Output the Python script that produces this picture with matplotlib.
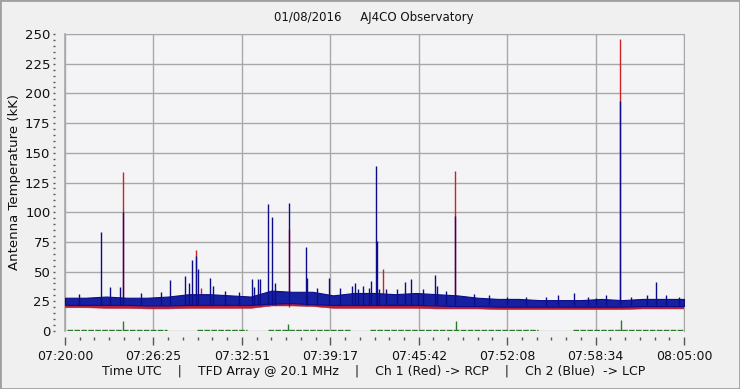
import numpy as np
import matplotlib
matplotlib.use('Agg')
import matplotlib.pyplot as plt
from matplotlib.ticker import MultipleLocator, FixedLocator

# time in seconds after 07:20:00
t_env = [0, 90, 180, 270, 360, 450, 540, 630, 720, 810, 900, 990, 1080, 1170, 1260, 1350,
         1440, 1530, 1620, 1710, 1800, 1890, 1980, 2070, 2160, 2250, 2340, 2430, 2520, 2610, 2700]
blue_hi = [28, 28, 29, 28, 28, 29, 31, 31, 30, 29, 34, 33, 33, 30, 32, 32,
           31, 32, 31, 30, 28, 27, 27, 26, 26, 26, 27, 26, 27, 27, 27]
blue_lo = [22, 22, 22, 22, 21.5, 21.5, 22, 22, 22, 22, 23, 23.5, 22.5, 22, 22, 22,
           22, 22, 21.5, 21, 21, 20.5, 20.5, 20.5, 20.5, 20.5, 20.5, 20.5, 21, 21, 21]
red_hi = [22.5, 22.5, 22, 22, 21.5, 21.5, 22, 22, 22, 22, 24, 24, 23.5, 22, 22, 22,
          22, 22, 21.5, 21.5, 21.5, 21.5, 21.5, 21.5, 21.5, 21.5, 21.5, 21.5, 22, 22, 22]
red_lo = [20, 20, 19.5, 19.5, 19, 19, 19.5, 19.5, 19.5, 19.5, 21.5, 21.5, 21, 19.5, 19.5, 19.5,
          19.5, 19.5, 19, 19, 19, 18.5, 18.5, 18.5, 18.5, 18.5, 18.5, 18.5, 19, 19, 19]

# spikes: time (s), peak (kK)
blue_spk_t = [157, 196, 240, 253, 458, 523, 541, 554, 571, 580, 632, 646, 816, 824, 842, 850,
              885, 903, 916, 977, 1051, 1056, 1152, 1252, 1265, 1278, 1300, 1326, 1335, 1357,
              1362, 1370, 1400, 1483, 1509, 1540, 1614, 1623, 1701, 1784, 2220, 2316, 2421,
              2578, 2678, 60, 330, 420, 700, 760, 1100, 1200, 1450, 1560, 1660, 1850, 1930,
              2010, 2100, 2150, 2280, 2360, 2470, 2540, 2620]
blue_spk_v = [83, 37, 37, 100, 43, 46, 40, 60, 63, 52, 45, 38, 44, 37, 44, 44,
              107, 96, 40, 108, 71, 45, 45, 38, 40, 35, 38, 36, 42, 139,
              76, 35, 35, 41, 44, 32, 47, 38, 97, 31, 32, 28, 194,
              41, 29, 31, 32, 33, 34, 33, 36, 36, 35, 35, 34, 30, 29,
              29, 29, 30, 29, 30, 29, 30, 30]
red_spk_t = [253, 571, 593, 977, 1387, 1701, 2421]
red_spk_v = [134, 68, 36, 86, 52, 135, 246]

green_segs = [(9, 445), (576, 794), (885, 1243), (1330, 2063), (2215, 2700)]
green_level = 1.0
green_spk_t = [253, 973, 1705, 2425]
green_spk_v = [8, 6, 8, 9]

xtick_labels = ['07:20:00', '07:26:25', '07:32:51', '07:39:17',
                '07:45:42', '07:52:08', '07:58:34', '08:05:00']

blue = '#0c0c8a'
blue_band = '#1620a0'
red = '#cc2222'
red_band = '#b42035'
green = '#2a7a2a'
gridc = '#a8a8a8'

fig = plt.figure(figsize=(7.4, 3.89), dpi=100, facecolor='#f0f0f0')
ax = fig.add_axes([65/740, 58/389, 619/740, 297/389])
ax.set_facecolor('#f4f4f6')

# red channel (behind)
ax.fill_between(t_env, red_lo, red_hi, color=red_band, lw=0.4, zorder=2)
ax.vlines(red_spk_t, 20, red_spk_v, color=red, lw=1.0, zorder=3)
# blue channel
ax.fill_between(t_env, blue_lo, blue_hi, facecolor=blue_band, edgecolor=blue, lw=0.8, zorder=4)
ax.vlines(blue_spk_t, 22, blue_spk_v, color=blue, lw=1.0, zorder=5)
# green
for a, b in green_segs:
    ax.plot([a, b], [green_level, green_level], color=green, lw=1.0,
            ls=(0, (4, 1)), zorder=3)
ax.vlines(green_spk_t, 0, green_spk_v, color=green, lw=1.0, zorder=3)

ax.set_xlim(0, 2700)
ax.set_ylim(0, 250)

ax.yaxis.set_major_locator(MultipleLocator(25))
ax.yaxis.set_minor_locator(MultipleLocator(5))
xt = np.linspace(0, 2700, len(xtick_labels))
ax.xaxis.set_major_locator(FixedLocator(xt))
ax.xaxis.set_minor_locator(FixedLocator(np.linspace(0, 2700, 43)))
ax.set_xticklabels(xtick_labels)

ax.grid(True, which='major', color=gridc, lw=1.0, zorder=1)
ax.set_axisbelow(True)
for s in ['top', 'right']:
    ax.spines[s].set_color(gridc)
ax.spines['left'].set_position(('outward', 7))
ax.spines['bottom'].set_position(('outward', 4))
ax.spines['left'].set_visible(False)
ax.spines['bottom'].set_visible(False)
ax.plot([0, 0], [0, 250], color=gridc, lw=1.2, zorder=1, clip_on=False)

ax.tick_params(axis='y', which='major', length=1.5, width=1, color='#555555',
               labelsize=9.5, pad=2, labelcolor='#111111')
ax.tick_params(axis='y', which='minor', length=1.5, width=1, color='#555555')
ax.tick_params(axis='x', which='major', length=6, width=1, color='#555555',
               labelsize=9, pad=4, labelcolor='#111111')
ax.tick_params(axis='x', which='minor', length=2.5, width=1, color='#555555')

ax.set_ylabel('Antenna Temperature (kK)', fontsize=9.5, color='#111111', labelpad=3)
fig.text(374/740, 1 - 18/389, '01/08/2016     AJ4CO Observatory', ha='center',
         va='center', fontsize=8.5, color='#111111')
fig.text(374/740, 1 - 372/389,
         'Time UTC    |    TFD Array @ 20.1 MHz    |    Ch 1 (Red) -> RCP    |    Ch 2 (Blue)  -> LCP',
         ha='center', va='center', fontsize=9, color='#111111')

# outer frame
fig.patches.append(plt.Rectangle((0, 0), 1, 1, transform=fig.transFigure, fill=False,
                                 edgecolor='#a0a0a0', lw=2))

fig.savefig('out.png', dpi=100, facecolor=fig.get_facecolor())
